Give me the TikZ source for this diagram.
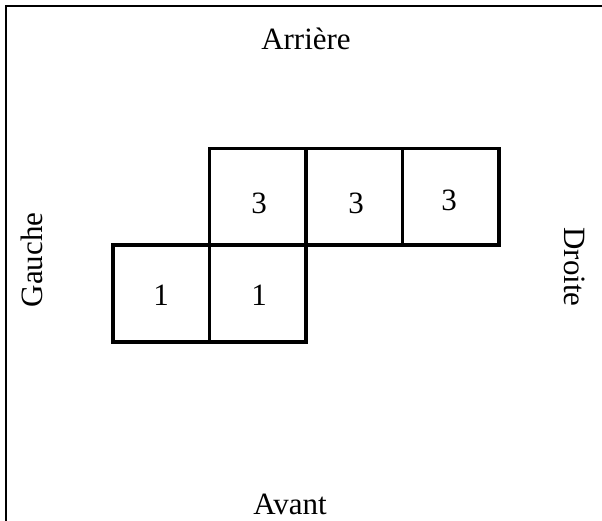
\documentclass[tikz,border=0pt]{standalone}
\usepackage{fontspec}
\setmainfont{Liberation Serif}
\usepackage{tikz}
\usetikzlibrary{positioning}

\tikzset{
  cell/.style={draw, line width=3.5pt, minimum size=96.5pt, inner sep=0pt, outer sep=0pt},
  lbl/.style={font=\fontsize{31}{31}\selectfont, inner sep=0pt},
}

\begin{document}
\begin{tikzpicture}[x=1pt,y=-1pt]
            \useasboundingbox (0,0) rectangle (602,521);
            % cadre
            \coordinate (fbl) at (6,521);
            \coordinate (ftl) at (6,6);
            \coordinate (ftr) at (602,6);
            \draw[line width=1.5pt] (fbl) -- (ftl) -- (ftr);
            % cases
            \node[cell] at (161,293.5) (c1) {};
            \node[cell, right=0pt of c1] (c2) {};
            \node[cell, above=0pt of c2] (c3) {};
            \node[cell, right=0pt of c3] (c4) {};
            \node[cell, right=0pt of c4] (c5) {};
            % hauteurs
            \node[lbl] at (161,295) (n1) {1};
            \node[lbl] at (259,295) (n2) {1};
            \node[lbl] at (259,203) (n3) {3};
            \node[lbl] at (356,203) (n4) {3};
            \node[lbl] at (449,200) (n5) {3};
            % cotes
            \node[lbl] at (306,38.5) (arr) {Arrière};
            \node[lbl] at (290,504) (av) {Avant};
            \node[lbl, rotate=90] at (31.5,260) (ga) {Gauche};
            \node[lbl, rotate=-90] at (575,267) (dr) {Droite};
        \end{tikzpicture}
\end{document}
